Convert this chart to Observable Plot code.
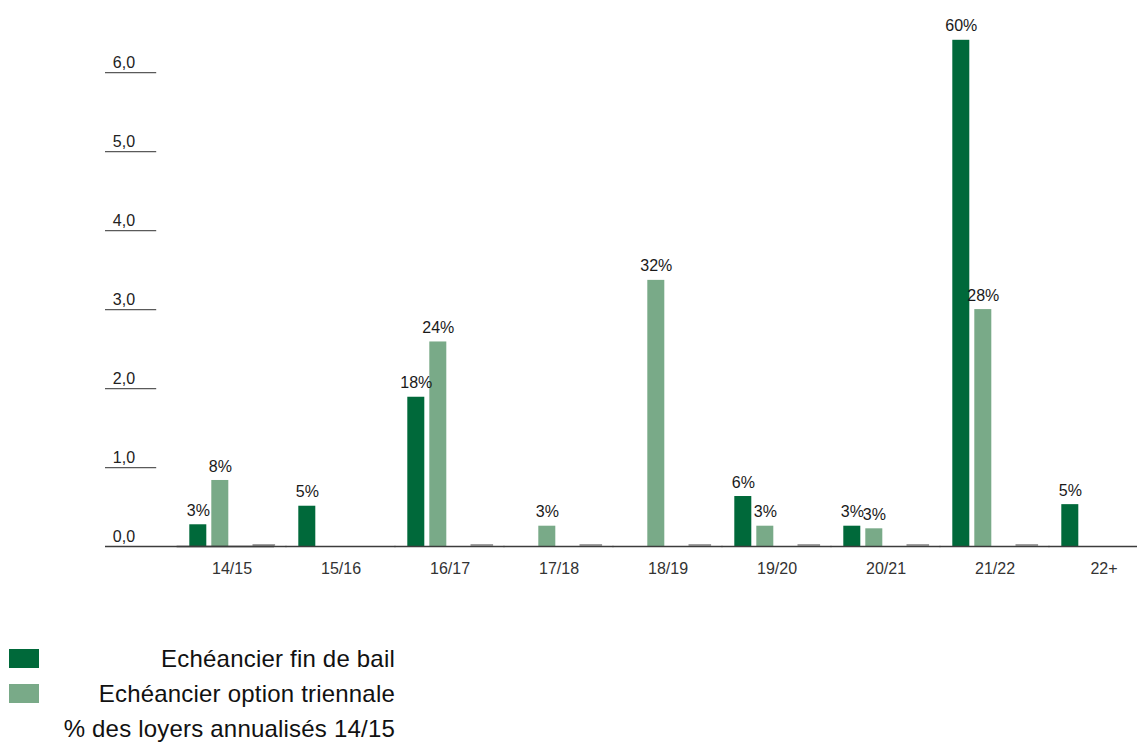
<!DOCTYPE html>
<html>
<head>
<meta charset="utf-8">
<script src="https://cdn.jsdelivr.net/npm/d3@7"></script>
<script src="https://cdn.jsdelivr.net/npm/@observablehq/plot@0.6"></script>
<style>
  html, body { margin: 0; padding: 0; overflow: hidden; background: #fff; width: 1137px; }
  #chart { width: 1137px; height: 610px; overflow: hidden; }
  #chart svg { display: block; max-width: none !important; width: 1150px !important; height: 610px !important; }
  #legend { padding-top: 31px; font-family: "Liberation Sans", Arial, sans-serif; font-size: 24px; color: #111; letter-spacing: 0.2px; }
  .row { position: relative; width: 395px; height: 35px; line-height: 35px; text-align: right; white-space: nowrap; }
  .sw { position: absolute; left: 9px; top: 8px; width: 30px; height: 19px; }
</style>
</head>
<body>
<div id="chart"></div>
<div id="legend"></div>
<script>
const categories = ["14/15", "15/16", "16/17", "17/18", "18/19", "19/20", "20/21", "21/22", "22+"];
const finDeBail       = [0.275, 0.51, 1.89, null, null, 0.633, 0.257, 6.41, 0.53];
const optionTriennale = [0.836, null, 2.59, 0.257, 3.37, 0.257, 0.224, 3.0, null];
const labelsFinDeBail = ["3%", "5%", "18%", null, null, "6%", "3%", "60%", "5%"];
const labelsOption    = ["8%", null, "24%", "3%", "32%", "3%", "3%", "28%", null];
const loyersAnnualises = [0, null, 0, 0, 0, 0, 0, 0, null];
const yTicks = [0, 1, 2, 3, 4, 5, 6];
const yTickLabels = ["0,0", "1,0", "2,0", "3,0", "4,0", "5,0", "6,0"];
const seriesNames = ["Echéancier fin de bail", "Echéancier option triennale", "% des loyers annualisés 14/15"];
const dark = "#00693a";
const light = "#79aa88";

const rows = [];
categories.forEach((c, i) => {
  if (finDeBail[i] != null) rows.push({cat: c, serie: "fin", value: finDeBail[i], label: labelsFinDeBail[i]});
  if (optionTriennale[i] != null) rows.push({cat: c, serie: "opt", value: optionTriennale[i], label: labelsOption[i]});
});
const zeroRows = categories
  .map((c, i) => ({cat: c, serie: "pct", value: loyersAnnualises[i]}))
  .filter(d => d.value != null);
const tickRows = yTicks.map((v, i) => ({v, label: yTickLabels[i]}));

const chart = Plot.plot({
  width: 1150,
  height: 610,
  marginLeft: 186.7,
  marginRight: 1.4,
  marginTop: 9,
  marginBottom: 64,
  style: {fontFamily: "'Liberation Sans', Arial, sans-serif", fontSize: "16px", color: "#222", background: "#fff", overflow: "visible"},
  fx: {domain: categories, paddingInner: 0.2235, paddingOuter: 0, axis: null, label: null},
  x: {domain: ["fin", "opt", "gap", "pct"], paddingInner: 0.25, paddingOuter: 0, align: 0, axis: null},
  y: {domain: [0, 6.8], axis: null},
  color: {domain: ["fin", "opt"], range: [dark, light]},
  marks: [
    Plot.barY(rows, {fx: "cat", x: "serie", y: "value", fill: "serie"}),
    Plot.tickY(zeroRows, {fx: "cat", x: "serie", y: "value", stroke: "#a0a0a0", strokeWidth: 2, insetLeft: -2.8, insetRight: -2.8, dy: -1.5}),
    Plot.text(rows, {fx: "cat", x: "serie", y: "value", text: "label", dy: -14, fontSize: 16, fill: "#1a1a1a"}),
    Plot.axisFx({anchor: "bottom", tickSize: 0, tickPadding: 16, fontSize: 16, fill: "#333", label: null}),
    Plot.ruleY(tickRows.filter(d => d.v > 0), {y: "v", facetAnchor: "left", stroke: "#5a5a5a", strokeWidth: 1.3, insetLeft: -84, insetRight: 117.8}),
    Plot.text(tickRows, {y: "v", text: "label", facetAnchor: "left", frameAnchor: "left", textAnchor: "start", dx: -76.7, dy: -10, fontSize: 16, fill: "#222"}),
    Plot.ruleY([0], {stroke: "#3c3c3c", strokeWidth: 1.5, insetLeft: -12.4, insetRight: -12.4}),
    Plot.ruleY([0], {facetAnchor: "left", stroke: "#3c3c3c", strokeWidth: 1.5, insetLeft: -84})
  ]
});
document.getElementById("chart").appendChild(chart);

const legendColors = [dark, light, null];
const legend = document.getElementById("legend");
seriesNames.forEach((name, i) => {
  const row = document.createElement("div");
  row.className = "row";
  if (legendColors[i]) {
    const sw = document.createElement("span");
    sw.className = "sw";
    sw.style.background = legendColors[i];
    row.appendChild(sw);
  }
  row.appendChild(document.createTextNode(name));
  legend.appendChild(row);
});
</script>
</body>
</html>
